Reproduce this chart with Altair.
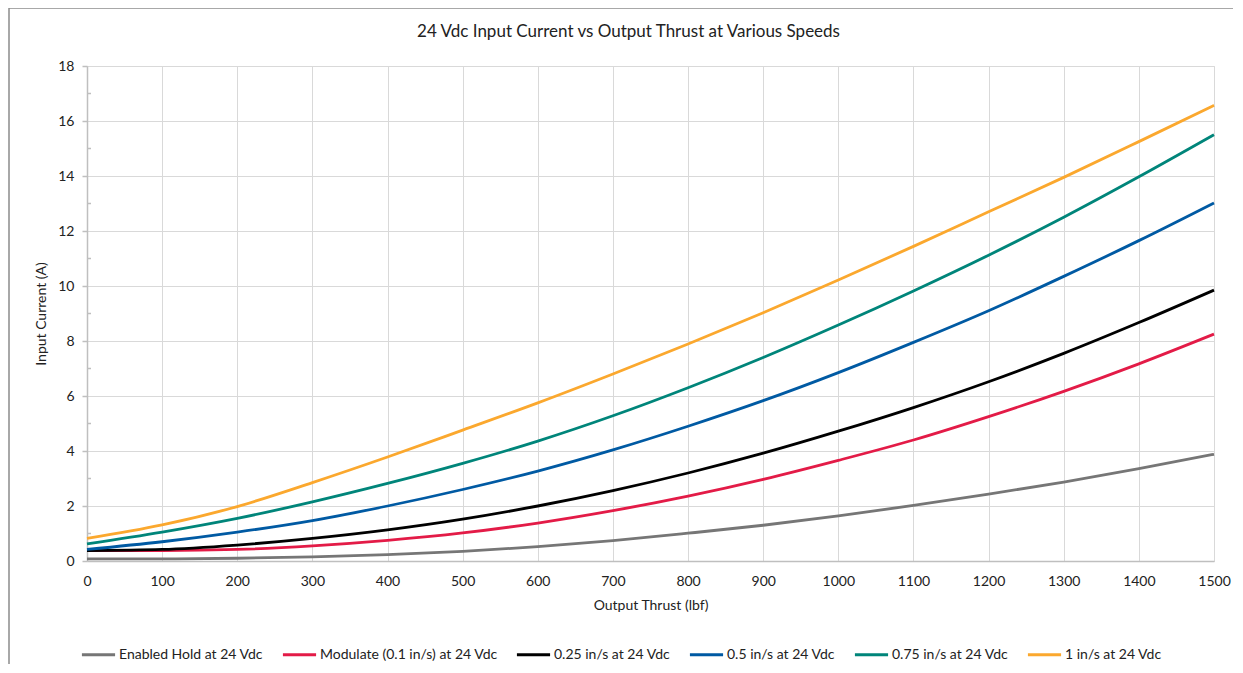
import altair as alt
import pandas as pd

thrust = [0, 100, 200, 300, 400, 500, 600, 700, 800, 900, 1000, 1100, 1200, 1300, 1400, 1500]

series_names = [
    "Enabled Hold at 24 Vdc",
    "Modulate (0.1 in/s) at 24 Vdc",
    "0.25 in/s at 24 Vdc",
    "0.5 in/s at 24 Vdc",
    "0.75 in/s at 24 Vdc",
    "1 in/s at 24 Vdc",
]
series_colors = ["#767676", "#E31B47", "#000000", "#005AA3", "#00857A", "#FBA82E"]

hold = [0.08, 0.08, 0.10, 0.15, 0.23, 0.35, 0.52, 0.74, 1.01, 1.30, 1.64, 2.02, 2.43, 2.87, 3.36, 3.88]
modulate = [0.38, 0.38, 0.42, 0.55, 0.75, 1.02, 1.38, 1.83, 2.36, 2.97, 3.66, 4.40, 5.25, 6.17, 7.17, 8.25]
s025 = [0.38, 0.42, 0.58, 0.82, 1.13, 1.52, 2.00, 2.56, 3.20, 3.92, 4.72, 5.58, 6.52, 7.55, 8.67, 9.85]
s050 = [0.42, 0.70, 1.05, 1.47, 2.00, 2.60, 3.27, 4.04, 4.90, 5.83, 6.85, 7.95, 9.10, 10.35, 11.65, 13.02]
s075 = [0.62, 1.05, 1.55, 2.15, 2.82, 3.55, 4.36, 5.28, 6.30, 7.40, 8.58, 9.82, 11.12, 12.50, 13.97, 15.50]
s100 = [0.82, 1.31, 1.98, 2.85, 3.78, 4.76, 5.75, 6.80, 7.89, 9.03, 10.22, 11.44, 12.70, 13.95, 15.25, 16.57]

y_ticks = [0, 2, 4, 6, 8, 10, 12, 14, 16, 18]
y_minor = [1, 3, 5, 7, 9, 11, 13, 15, 17]
x_ticks = thrust

all_series = [hold, modulate, s025, s050, s075, s100]
rows = []
for name, vals in zip(series_names, all_series):
    for t, v in zip(thrust, vals):
        rows.append({"thrust": t, "current": v, "series": name})
df = pd.DataFrame(rows)

FONT = "Lato"

xscale = alt.Scale(domain=[0, 1500], nice=False)
yscale = alt.Scale(domain=[0, 18], nice=False)

lines = alt.Chart(df).mark_line(strokeWidth=2.8, interpolate="monotone").encode(
    x=alt.X("thrust:Q", scale=xscale,
            axis=alt.Axis(title="Output Thrust (lbf)", values=x_ticks, format="d",
                          grid=True, gridColor="#d9d9d9", gridWidth=1,
                          domainColor="#bfbfbf", domainWidth=1.5, ticks=False,
                          labelFlush=False, labelPadding=13, labelFontSize=14,
                          labelColor="#222", labelFont=FONT, titleFont=FONT,
                          titleFontSize=14, titleFontWeight="normal",
                          titleColor="#222", titlePadding=10)),
    y=alt.Y("current:Q", scale=yscale,
            axis=alt.Axis(title="Input Current (A)", values=y_ticks,
                          grid=True, gridColor="#d9d9d9", gridWidth=1,
                          domainColor="#bfbfbf", domainWidth=1.5,
                          ticks=True, tickSize=5, tickColor="#bfbfbf", tickWidth=1.5,
                          labelFlush=False, labelPadding=8, labelFontSize=14,
                          labelColor="#222", labelFont=FONT, titleFont=FONT,
                          titleFontSize=14, titleFontWeight="normal",
                          titleColor="#222", titlePadding=9)),
    color=alt.Color("series:N",
                    scale=alt.Scale(domain=series_names, range=series_colors),
                    legend=alt.Legend(title=None, orient="none", direction="horizontal",
                                      legendX=-7, legendY=570,
                                      symbolType="stroke", symbolSize=1100,
                                      symbolStrokeWidth=3, labelFont=FONT,
                                      labelFontSize=14, labelColor="#222",
                                      labelLimit=400,
                                      columnPadding=12, labelOffset=2)),
)

minor_df = pd.DataFrame({"v": y_minor})
minor = alt.Chart(minor_df).mark_rule(color="#bfbfbf", strokeWidth=1.5).encode(
    y=alt.Y("v:Q", scale=yscale),
    x=alt.value(0),
    x2=alt.value(4),
)

border = alt.Chart(pd.DataFrame({"a": [0]})).mark_rect(
    fill=None, stroke="#8c8c8c", strokeWidth=1.5
).encode(
    x=alt.value(-78), x2=alt.value(1200),
    y=alt.value(-58), y2=alt.value(650),
)

chart = alt.layer(border, lines, minor).properties(
    width=1127,
    height=495,
    title=alt.TitleParams(
        "24 Vdc Input Current vs Output Thrust at Various Speeds",
        font=FONT, fontSize=17, fontWeight="normal", color="#222",
        anchor="middle", frame="group", offset=-34, dx=-22,
    ),
    autosize=alt.AutoSizeParams(type="none"),
    padding={"left": 79, "top": 58, "right": 19, "bottom": 103},
).configure_view(stroke="#d9d9d9", strokeWidth=1).configure(background="white")

chart.save("out.html", embed_options={"renderer": "svg", "actions": False})
